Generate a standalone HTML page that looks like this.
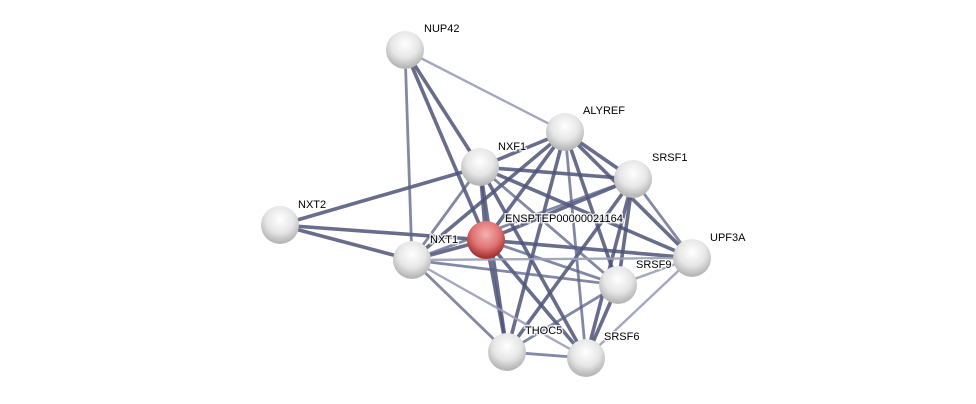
<!DOCTYPE html>
<html><head><style>html,body{margin:0;padding:0;background:#fff;width:976px;height:404px;overflow:hidden}</style></head>
<body>
<svg width="976" height="404" xmlns="http://www.w3.org/2000/svg" font-family="Liberation Sans, sans-serif" font-size="11">
<defs>
<radialGradient id="g" cx="50%" cy="35%" r="60%">
<stop offset="0" stop-color="#ffffff"/><stop offset="0.6" stop-color="#e6e6e6"/><stop offset="1" stop-color="#b8b8b8"/>
</radialGradient>
<radialGradient id="r" cx="50%" cy="35%" r="60%">
<stop offset="0" stop-color="#f4b0b0"/><stop offset="0.6" stop-color="#e07474"/><stop offset="1" stop-color="#a83434"/>
</radialGradient>
</defs>
<g stroke-linecap="round">
<g stroke="#4d5378" stroke-width="3.6" stroke-opacity="0.85">
<line x1="405" y1="50" x2="480" y2="167"/>
<line x1="405" y1="50" x2="486" y2="240"/>
<line x1="280" y1="225" x2="480" y2="167"/>
<line x1="280" y1="225" x2="412" y2="260"/>
<line x1="280" y1="225" x2="486" y2="240"/>
<line x1="480" y1="167" x2="565" y2="132"/>
<line x1="480" y1="167" x2="633" y2="179"/>
<line x1="480" y1="167" x2="486" y2="240"/>
<line x1="480" y1="167" x2="692" y2="258"/>
<line x1="480" y1="167" x2="507" y2="352"/>
<line x1="565" y1="132" x2="486" y2="240"/>
<line x1="565" y1="132" x2="633" y2="179"/>
<line x1="565" y1="132" x2="692" y2="258"/>
<line x1="565" y1="132" x2="618" y2="285"/>
<line x1="565" y1="132" x2="507" y2="352"/>
<line x1="565" y1="132" x2="412" y2="260"/>
<line x1="633" y1="179" x2="486" y2="240"/>
<line x1="633" y1="179" x2="618" y2="285"/>
<line x1="633" y1="179" x2="586" y2="358"/>
<line x1="633" y1="179" x2="507" y2="352"/>
<line x1="486" y1="240" x2="692" y2="258"/>
<line x1="486" y1="240" x2="507" y2="352"/>
<line x1="486" y1="240" x2="586" y2="358"/>
<line x1="486" y1="240" x2="412" y2="260"/>
<line x1="618" y1="285" x2="586" y2="358"/>
<line x1="480" y1="167" x2="586" y2="358"/>
</g>
<g stroke="#5a6085" stroke-width="2.8" stroke-opacity="0.75">
<line x1="405" y1="50" x2="412" y2="260"/>
<line x1="480" y1="167" x2="412" y2="260"/>
<line x1="565" y1="132" x2="586" y2="358"/>
<line x1="412" y1="260" x2="618" y2="285"/>
<line x1="412" y1="260" x2="507" y2="352"/>
<line x1="412" y1="260" x2="633" y2="179"/>
<line x1="486" y1="240" x2="618" y2="285"/>
<line x1="618" y1="285" x2="507" y2="352"/>
<line x1="507" y1="352" x2="586" y2="358"/>
<line x1="633" y1="179" x2="692" y2="258"/>
<line x1="480" y1="167" x2="618" y2="285"/>
</g>
<g stroke="#9a9fb8" stroke-width="2.4" stroke-opacity="0.9">
<line x1="405" y1="50" x2="565" y2="132"/>
<line x1="412" y1="260" x2="586" y2="358"/>
<line x1="618" y1="285" x2="692" y2="258"/>
<line x1="692" y1="258" x2="586" y2="358"/>
<line x1="412" y1="260" x2="692" y2="258"/>
</g>
</g>
<g>
<circle cx="405" cy="50" r="19" fill="url(#g)"/>
<circle cx="565" cy="132" r="19" fill="url(#g)"/>
<circle cx="480" cy="167" r="19" fill="url(#g)"/>
<circle cx="633" cy="179" r="19" fill="url(#g)"/>
<circle cx="280" cy="225" r="19" fill="url(#g)"/>
<circle cx="412" cy="260" r="19" fill="url(#g)"/>
<circle cx="692" cy="258" r="19" fill="url(#g)"/>
<circle cx="618" cy="285" r="19" fill="url(#g)"/>
<circle cx="507" cy="352" r="19" fill="url(#g)"/>
<circle cx="586" cy="358" r="19" fill="url(#g)"/>
<circle cx="486" cy="240" r="19" fill="url(#r)"/>
</g>
<g fill="#000" stroke="#fff" stroke-width="3" stroke-opacity="0.8" style="paint-order:stroke">
<text x="424" y="32">NUP42</text>
<text x="583" y="114">ALYREF</text>
<text x="498" y="150">NXF1</text>
<text x="652" y="161">SRSF1</text>
<text x="298" y="208">NXT2</text>
<text x="505" y="222">ENSPTEP00000021164</text>
<text x="430" y="243">NXT1</text>
<text x="710" y="241">UPF3A</text>
<text x="636" y="268">SRSF9</text>
<text x="525" y="334">THOC5</text>
<text x="604" y="340">SRSF6</text>
</g>
</svg>
</body></html>
